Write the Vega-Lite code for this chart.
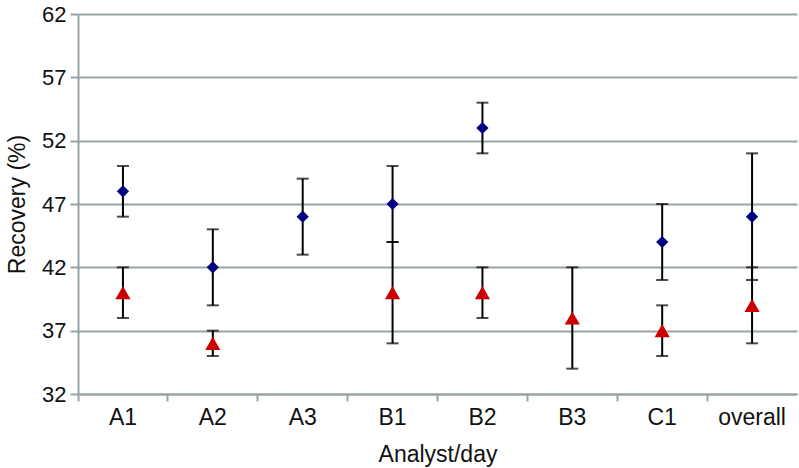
{
  "$schema": "https://vega.github.io/schema/vega-lite/v6.json",
  "width": 719,
  "height": 380,
  "autosize": "none",
  "padding": {"left": 78, "top": 14, "right": 2, "bottom": 74},
  "background": "white",
  "config": {
    "view": {"stroke": null},
    "font": "Liberation Sans",
    "axis": {"labelFont": "Liberation Sans", "titleFont": "Liberation Sans", "labelFontSize": 22, "titleFontSize": 23, "titleFontWeight": "normal", "labelColor": "#111", "titleColor": "#111", "domainColor": "#9aa3a3", "tickColor": "#9aa3a3", "gridColor": "#9aa3a3", "domainWidth": 2, "tickWidth": 2, "gridWidth": 2}
  },
  "data": {
    "values": [
      {"day": "A1", "series": "blue", "mean": 48, "lo": 46, "hi": 50},
      {"day": "A1", "series": "red", "mean": 40, "lo": 38, "hi": 42},
      {"day": "A2", "series": "blue", "mean": 42, "lo": 39, "hi": 45},
      {"day": "A2", "series": "red", "mean": 36, "lo": 35, "hi": 37},
      {"day": "A3", "series": "blue", "mean": 46, "lo": 43, "hi": 49},
      {"day": "B1", "series": "blue", "mean": 47, "lo": 44, "hi": 50},
      {"day": "B1", "series": "red", "mean": 40, "lo": 36, "hi": 44},
      {"day": "B2", "series": "blue", "mean": 53, "lo": 51, "hi": 55},
      {"day": "B2", "series": "red", "mean": 40, "lo": 38, "hi": 42},
      {"day": "B3", "series": "red", "mean": 38, "lo": 34, "hi": 42},
      {"day": "C1", "series": "blue", "mean": 44, "lo": 41, "hi": 47},
      {"day": "C1", "series": "red", "mean": 37, "lo": 35, "hi": 39},
      {"day": "overall", "series": "blue", "mean": 46, "lo": 41, "hi": 51},
      {"day": "overall", "series": "red", "mean": 39, "lo": 36, "hi": 42}
    ]
  },
  "encoding": {
    "x": {
      "field": "day", "type": "nominal",
      "sort": ["A1", "A2", "A3", "B1", "B2", "B3", "C1", "overall"],
      "scale": {"paddingInner": 0, "paddingOuter": 0},
      "axis": {"title": "Analyst/day", "labelAngle": 0, "bandPosition": 0, "tickSize": 7, "labelPadding": 5, "labelFontSize": 23, "titlePadding": 14, "domain": true, "grid": false}
    }
  },
  "layer": [
    {
      "mark": {"type": "rule", "color": "black", "strokeWidth": 2},
      "encoding": {
        "y": {"field": "lo", "type": "quantitative", "scale": {"domain": [32, 62], "nice": false}, "axis": {"title": "Recovery (%)", "values": [32, 37, 42, 47, 52, 57, 62], "tickSize": 8, "labelPadding": 4, "titlePadding": 12, "grid": true}},
        "y2": {"field": "hi"}
      }
    },
    {
      "mark": {"type": "tick", "color": "black", "thickness": 2, "size": 12, "orient": "horizontal"},
      "encoding": {"y": {"field": "lo", "type": "quantitative"}}
    },
    {
      "mark": {"type": "tick", "color": "black", "thickness": 2, "size": 12, "orient": "horizontal"},
      "encoding": {"y": {"field": "hi", "type": "quantitative"}}
    },
    {
      "mark": {"type": "point", "filled": true, "opacity": 1},
      "encoding": {
        "y": {"field": "mean", "type": "quantitative"},
        "shape": {"field": "series", "type": "nominal", "scale": {"domain": ["blue", "red"], "range": ["diamond", "triangle-up"]}, "legend": null},
        "color": {"field": "series", "type": "nominal", "scale": {"domain": ["blue", "red"], "range": ["#000080", "#cc0000"]}, "legend": null},
        "size": {"field": "series", "type": "nominal", "scale": {"domain": ["blue", "red"], "range": [150, 230]}, "legend": null}
      }
    }
  ]
}
